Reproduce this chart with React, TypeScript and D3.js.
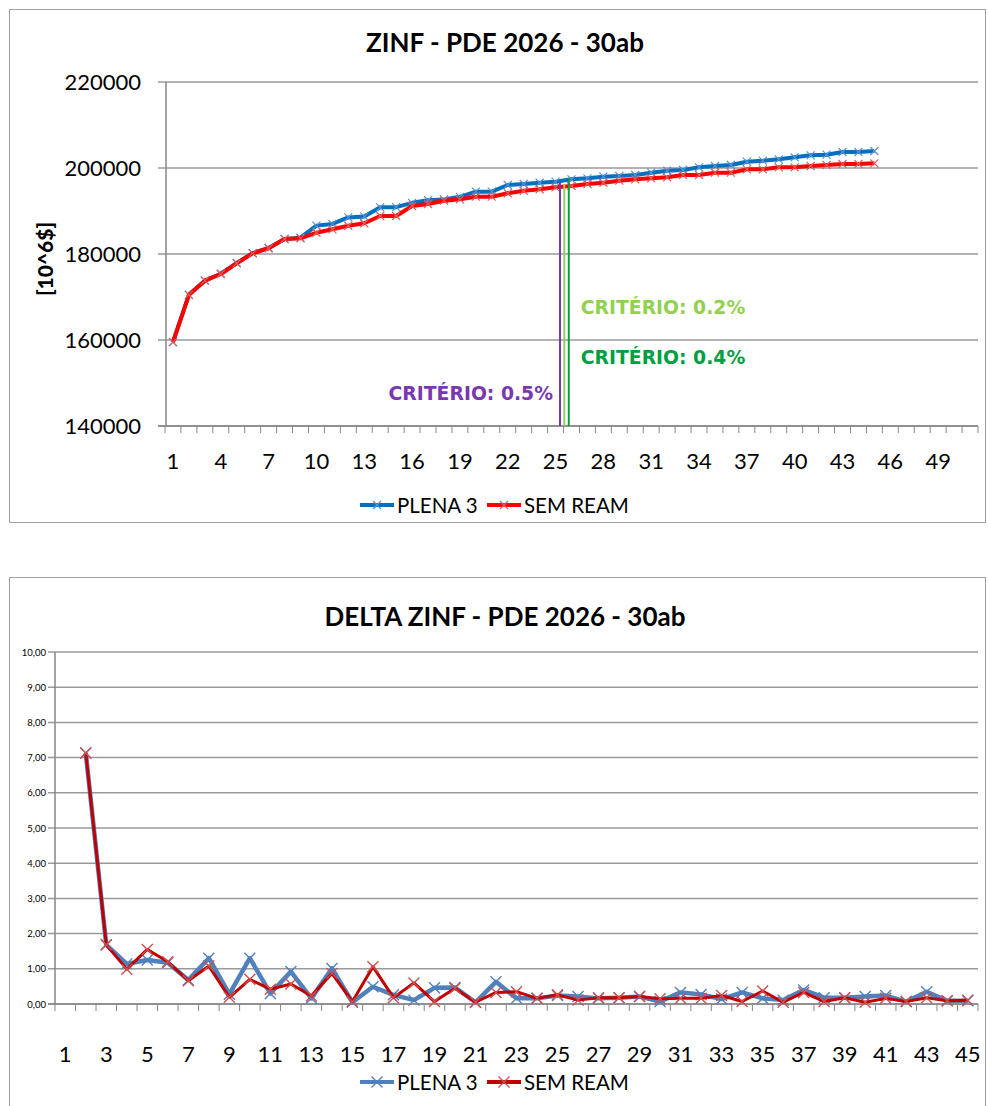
import React from "react";
import * as d3 from "d3";

// ZINF per iteration (10^6 $)
const zinfCategories = d3.range(1, 52);
const zinfTicks = [1, 4, 7, 10, 13, 16, 19, 22, 25, 28, 31, 34, 37, 40, 43, 46, 49];
const zinfYTicks = [140000, 160000, 180000, 200000, 220000];
const zinfPlena3 = [
  159500, 170500, 173800, 175400, 177900, 180200, 181400, 183500, 183800, 186600,
  187000, 188500, 188700, 190860, 190900, 191900, 192500, 192700, 193300, 194500,
  194500, 196050, 196280, 196580, 196820, 197370, 197600, 197980, 198140, 198370,
  198910, 199370, 199530, 200160, 200470, 200700, 201470, 201700, 202020, 202480,
  202950, 203100, 203720, 203720, 203950,
];
const zinfSemReam = [
  159500, 170500, 173800, 175350, 177840, 180160, 181330, 183490, 183650, 184950,
  185740, 186580, 187140, 188840, 188840, 191160, 191630, 192400, 192720, 193330,
  193330, 194120, 194720, 195050, 195510, 195810, 196280, 196580, 197050, 197370,
  197600, 197830, 198370, 198370, 198910, 198910, 199690, 199690, 200160, 200160,
  200470, 200700, 200930, 200930, 201090,
];
// convergence criteria: position on the iteration axis, top value, label, colour
const criterioNames = ["CRITÉRIO: 0.5%", "CRITÉRIO: 0.2%", "CRITÉRIO: 0.4%"];
const criterioIter = [25.28, 25.55, 25.83];
const criterioTop = [196700, 196050, 197700];
const criterioColors = ["#7A38B0", "#92D050", "#00A040"];
const criterioLabelValue = [146000, 166000, 154500];

// DELTA ZINF per iteration (%), from iteration 2
const deltaStart = 2;
const deltaTicks = d3.range(1, 46, 2);
const deltaYTicks = d3.range(0, 11);
const deltaPlena3 = [
  7.13, 1.68, 1.14, 1.25, 1.17, 0.68, 1.3, 0.28, 1.3, 0.3,
  0.92, 0.16, 1.01, 0.05, 0.49, 0.26, 0.11, 0.46, 0.47, 0.05,
  0.63, 0.16, 0.16, 0.24, 0.21, 0.16, 0.18, 0.21, 0.07, 0.33,
  0.27, 0.14, 0.33, 0.16, 0.11, 0.4, 0.18, 0.18, 0.21, 0.24,
  0.07, 0.35, 0.09, 0.09,
];
const deltaSemReam = [
  7.13, 1.68, 0.99, 1.55, 1.2, 0.66, 1.08, 0.19, 0.7, 0.42,
  0.57, 0.23, 0.87, 0.07, 1.06, 0.18, 0.6, 0.07, 0.45, 0.05,
  0.33, 0.35, 0.16, 0.26, 0.11, 0.18, 0.18, 0.21, 0.15, 0.16,
  0.16, 0.24, 0.07, 0.37, 0.05, 0.33, 0.07, 0.18, 0.05, 0.16,
  0.07, 0.18, 0.09, 0.11,
];

const seriesNames = ["PLENA 3", "SEM REAM"];

const FONT = "Lato, 'Open Sans', sans-serif";
const AXIS = "#868686";
const GRID = "#9a9a9a";

function XMark({ x, y, r, color, w }: { x: number; y: number; r: number; color: string; w: number }) {
  return (
    <path
      d={`M${x - r},${y - r}L${x + r},${y + r}M${x - r},${y + r}L${x + r},${y - r}`}
      stroke={color}
      strokeWidth={w}
      fill="none"
    />
  );
}

function Legend({ y, colors, marks, r }: { y: number; colors: string[]; marks: string[]; r: number }) {
  const starts = [360, 487];
  return (
    <g>
      {seriesNames.map((n, i) => (
        <g key={n}>
          <line x1={starts[i]} x2={starts[i] + 34} y1={y} y2={y} stroke={colors[i]} strokeWidth={4} />
          <XMark x={starts[i] + 17} y={y} r={r} color={marks[i]} w={1.3} />
          <text x={starts[i] + 37} y={y + 7.5} fontFamily={FONT} fontSize={20.5} fill="#000">
            {n}
          </text>
        </g>
      ))}
    </g>
  );
}

function TopChart() {
  const left = 166, right = 978, top = 82, bottom = 426;
  const x = d3.scaleLinear().domain([0.5, 51.5]).range([left - 1, right]);
  const y = d3.scaleLinear().domain([140000, 220000]).range([bottom, top]);
  const line = d3.line<number>().x((_, i) => x(i + 1)).y((d) => y(d));
  const series = [
    { name: seriesNames[0], data: zinfPlena3, color: "#0070C0", mark: "#5b8fd0" },
    { name: seriesNames[1], data: zinfSemReam, color: "#FF0000", mark: "#d86060" },
  ];
  return (
    <g>
      <rect x={9.5} y={9.5} width={976} height={513} fill="#fff" stroke="#a0a0a0" strokeWidth={1} />
      <text x={505} y={52} textAnchor="middle" fontFamily={FONT} fontWeight={700} fontSize={26} fill="#000">
        ZINF - PDE 2026 - 30ab
      </text>
      {zinfYTicks.map((t) => (
        <g key={t}>
          <line x1={left - 8} x2={right} y1={y(t)} y2={y(t)} stroke={GRID} strokeWidth={1.5} />
          <text x={141} y={y(t) + 8} textAnchor="end" fontFamily={FONT} fontSize={22} fill="#000">
            {t}
          </text>
        </g>
      ))}
      <line x1={left} x2={left} y1={top} y2={bottom} stroke={AXIS} strokeWidth={1.5} />
      <line x1={left - 8} x2={right} y1={bottom} y2={bottom} stroke={AXIS} strokeWidth={1.5} />
      {zinfCategories.concat([52]).map((c) => (
        <line key={c} x1={x(c - 0.5)} x2={x(c - 0.5)} y1={bottom} y2={bottom + 7} stroke={AXIS} strokeWidth={1} />
      ))}
      {zinfTicks.map((t) => (
        <text key={t} x={x(t)} y={469} textAnchor="middle" fontFamily={FONT} fontSize={22} fill="#000">
          {t}
        </text>
      ))}
      <text
        transform={`translate(53,${(top + bottom) / 2 + 5}) rotate(-90)`}
        textAnchor="middle"
        fontFamily={FONT}
        fontWeight={900}
        fontSize={21}
        fill="#000"
      >
        [10^6$]
      </text>
      {series.map((s) => (
        <g key={s.name}>
          <path d={line(s.data) || ""} fill="none" stroke={s.color} strokeWidth={4} strokeLinejoin="round" />
          {s.data.map((d, i) => (
            <XMark key={i} x={x(i + 1)} y={y(d)} r={4} color={s.mark} w={1.2} />
          ))}
        </g>
      ))}
      {criterioIter.map((c, i) => (
        <line key={i} x1={x(c)} x2={x(c)} y1={y(criterioTop[i])} y2={bottom} stroke={criterioColors[i]} strokeWidth={2} />
      ))}
      {criterioNames.map((n, i) => (
        <text
          key={n}
          x={i === 0 ? x(criterioIter[0]) - 7 : x(criterioIter[2]) + 12}
          y={y(criterioLabelValue[i])}
          textAnchor={i === 0 ? "end" : "start"}
          fontFamily="'DejaVu Sans', Verdana, sans-serif"
          fontWeight={700}
          fontSize={18.8}
          fill={criterioColors[i]}
        >
          {n}
        </text>
      ))}
      <Legend y={505} colors={["#0070C0", "#FF0000"]} marks={["#5b8fd0", "#d86060"]} r={4} />
    </g>
  );
}

function BottomChart() {
  const left = 55, right = 978, top = 652, bottom = 1004;
  const x = d3.scaleLinear().domain([0.5, 45.5]).range([left, right]);
  const y = d3.scaleLinear().domain([0, 10]).range([bottom, top]);
  const line = d3.line<number>().x((_, i) => x(i + deltaStart)).y((d) => y(d));
  const fmt = (v: number) => d3.format(".2f")(v).replace(".", ",");
  const series = [
    { name: seriesNames[0], data: deltaPlena3, color: "#4F81BD", mark: "#4F81BD", w: 4.5 },
    { name: seriesNames[1], data: deltaSemReam, color: "#C00000", mark: "#d05050", w: 3 },
  ];
  return (
    <g>
      <rect x={9.5} y={577.5} width={976} height={540} fill="#fff" stroke="#a0a0a0" strokeWidth={1} />
      <text x={505} y={626} textAnchor="middle" fontFamily={FONT} fontWeight={700} fontSize={26} fill="#000">
        DELTA ZINF - PDE 2026 - 30ab
      </text>
      {deltaYTicks.map((t) => (
        <g key={t}>
          <line x1={left - 7} x2={right} y1={y(t)} y2={y(t)} stroke={GRID} strokeWidth={1.5} />
          <text x={46} y={y(t) + 3.5} textAnchor="end" fontFamily={FONT} fontSize={9.5} fill="#000">
            {fmt(t)}
          </text>
        </g>
      ))}
      <line x1={left} x2={left} y1={top} y2={bottom} stroke={AXIS} strokeWidth={1.5} />
      <line x1={left - 7} x2={right} y1={bottom} y2={bottom} stroke={AXIS} strokeWidth={1.5} />
      {d3.range(0, 46).map((i) => (
        <line key={i} x1={x(i + 0.5)} x2={x(i + 0.5)} y1={bottom} y2={bottom + 7} stroke={AXIS} strokeWidth={1} />
      ))}
      {deltaTicks.map((t) => (
        <text key={t} x={x(t)} y={1062} textAnchor="middle" fontFamily={FONT} fontSize={22} fill="#000">
          {t}
        </text>
      ))}
      {series.map((s) => (
        <g key={s.name}>
          <path d={line(s.data) || ""} fill="none" stroke={s.color} strokeWidth={s.w} strokeLinejoin="round" />
          {s.data.map((d, i) => (
            <XMark key={i} x={x(i + deltaStart)} y={y(d)} r={5.5} color={s.mark} w={1.4} />
          ))}
        </g>
      ))}
      <Legend y={1082} colors={["#4F81BD", "#C00000"]} marks={["#4F81BD", "#d05050"]} r={5.5} />
    </g>
  );
}

export default function App() {
  return (
    <svg
      width={988}
      height={1106}
      viewBox="0 0 988 1106"
      style={{ position: "absolute", left: 0, top: 0, background: "#fff" }}
    >
      <rect width={988} height={1106} fill="#fff" />
      <TopChart />
      <BottomChart />
    </svg>
  );
}
